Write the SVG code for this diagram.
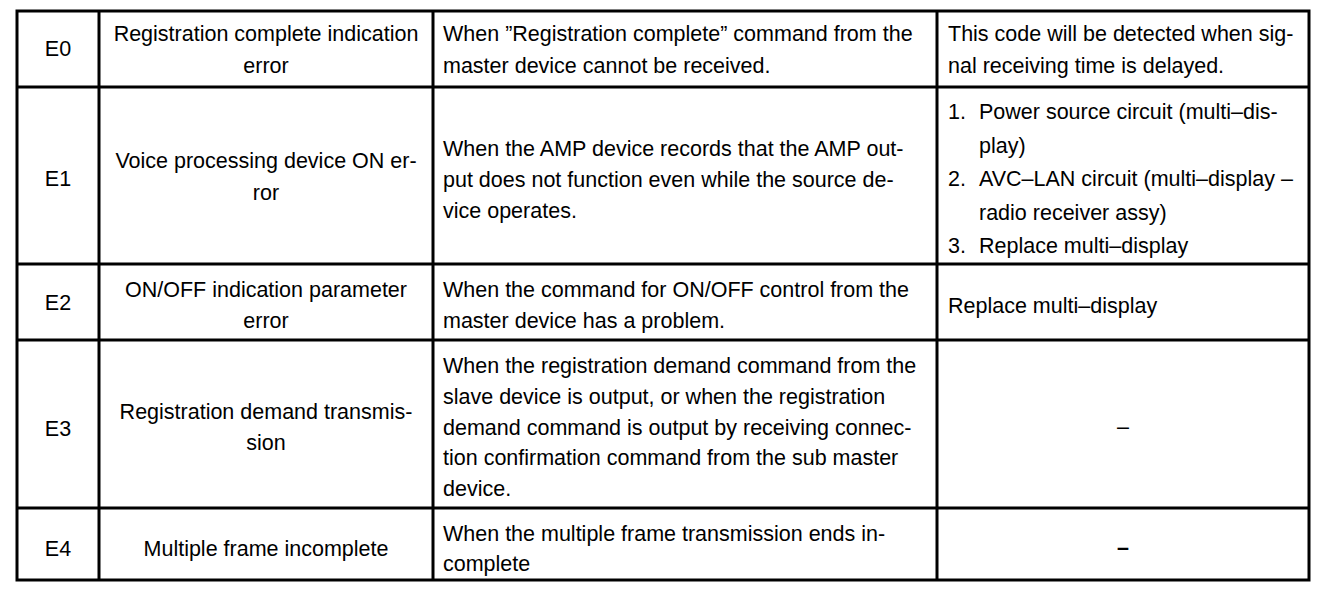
<svg xmlns="http://www.w3.org/2000/svg" width="1328" height="592" viewBox="0 0 1328 592">
<style>
text{font-family:"Liberation Sans",Arial,sans-serif;font-size:21.5px;fill:#000}
.c{text-anchor:middle}
.g{stroke:#000;stroke-width:3;fill:none}
</style>
<rect width="1328" height="592" fill="#fff"/>
<g id="grid">
<rect class="g" x="17" y="11" width="1292" height="569"/>
<line class="g" x1="99" y1="11" x2="99" y2="580"/>
<line class="g" x1="433" y1="11" x2="433" y2="580"/>
<line class="g" x1="937" y1="11" x2="937" y2="580"/>
<line class="g" x1="17" y1="87" x2="1309" y2="87"/>
<line class="g" x1="17" y1="264" x2="1309" y2="264"/>
<line class="g" x1="17" y1="340" x2="1309" y2="340"/>
<line class="g" x1="17" y1="508" x2="1309" y2="508"/>
</g>
<g id="row-E0">
<text class="c" x="58" y="56">E0</text>
<text class="c" x="266" y="41">Registration complete indication</text>
<text class="c" x="266" y="73">error</text>
<text x="443" y="41">When ”Registration complete” command from the</text>
<text x="443" y="73">master device cannot be received.</text>
<text x="948" y="41">This code will be detected when sig-</text>
<text x="948" y="73">nal receiving time is delayed.</text>
</g>
<g id="row-E1">
<text class="c" x="58" y="186">E1</text>
<text class="c" x="266" y="168">Voice processing device ON er-</text>
<text class="c" x="266" y="200">ror</text>
<text x="443" y="156">When the AMP device records that the AMP out-</text>
<text x="443" y="187">put does not function even while the source de-</text>
<text x="443" y="218">vice operates.</text>
<text x="948" y="119">1.</text>
<text x="979" y="119">Power source circuit (multi–dis-</text>
<text x="979" y="152.5">play)</text>
<text x="948" y="186">2.</text>
<text x="979" y="186">AVC–LAN circuit (multi–display –</text>
<text x="979" y="219.5">radio receiver assy)</text>
<text x="948" y="253">3.</text>
<text x="979" y="253">Replace multi–display</text>
</g>
<g id="row-E2">
<text class="c" x="58" y="310">E2</text>
<text class="c" x="266" y="297">ON/OFF indication parameter</text>
<text class="c" x="266" y="328">error</text>
<text x="443" y="297">When the command for ON/OFF control from the</text>
<text x="443" y="328">master device has a problem.</text>
<text x="948" y="313">Replace multi–display</text>
</g>
<g id="row-E3">
<text class="c" x="58" y="436">E3</text>
<text class="c" x="266" y="419">Registration demand transmis-</text>
<text class="c" x="266" y="450">sion</text>
<text x="443" y="373">When the registration demand command from the</text>
<text x="443" y="404">slave device is output, or when the registration</text>
<text x="443" y="435">demand command is output by receiving connec-</text>
<text x="443" y="465">tion confirmation command from the sub master</text>
<text x="443" y="496">device.</text>
<text class="c" x="1123" y="434">–</text>
</g>
<g id="row-E4">
<text class="c" x="58" y="556">E4</text>
<text class="c" x="266" y="556">Multiple frame incomplete</text>
<text x="443" y="541">When the multiple frame transmission ends in-</text>
<text x="443" y="571">complete</text>
<text class="c" x="1123" y="555" font-weight="bold">–</text>
</g>
</svg>
